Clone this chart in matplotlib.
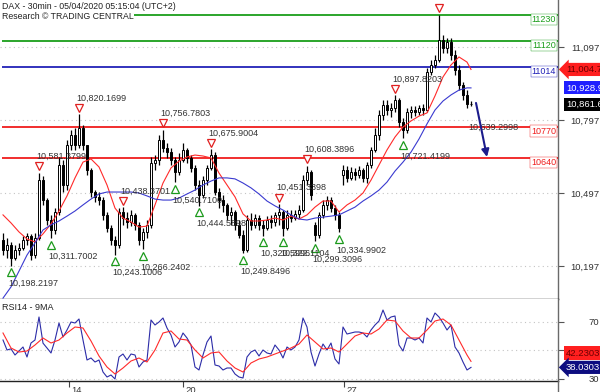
import matplotlib
matplotlib.use("Agg")
import matplotlib.pyplot as plt
import matplotlib.transforms as mtransforms
from matplotlib.lines import Line2D

plt.rcParams['font.family'] = ['Liberation Sans', 'DejaVu Sans']

# ---------------- data ----------------
title = "DAX - 30min - 05/04/2020 05:15:04 (UTC+2)"
subtitle = "Research \u00a9 TRADING CENTRAL"

opens = [10304, 10263, 10283, 10230, 10263, 10271, 10304, 10320, 10242, 10312,
         10550, 10468, 10386, 10345, 10419, 10612, 10530, 10694, 10735, 10694,
         10764, 10694, 10592, 10501, 10481, 10468, 10407, 10353, 10304, 10283,
         10419, 10394, 10378, 10407, 10366, 10304, 10337, 10366, 10620, 10633,
         10715, 10682, 10665, 10633, 10583, 10633, 10674, 10641, 10600, 10530,
         10489, 10550, 10600, 10653, 10501, 10468, 10448, 10407, 10419, 10366,
         10324, 10263, 10386, 10366, 10394, 10366, 10353, 10386, 10378, 10407,
         10419, 10353, 10407, 10394, 10411, 10427, 10550, 10583, 10366, 10324,
         10407, 10448, 10468, 10435, 10407, 10571, 10592, 10559, 10583, 10571,
         10592, 10559, 10612, 10674, 10735, 10818, 10859, 10838, 10846, 10879,
         10789, 10756, 10830, 10838, 10830, 10846, 10838, 10994, 11023, 11044,
         11126, 11093, 11118, 11064, 11002, 10941, 10900, 10863]
closes = [10263, 10283, 10230, 10263, 10271, 10304, 10320, 10242, 10312, 10550,
          10468, 10386, 10345, 10419, 10612, 10530, 10694, 10735, 10694, 10764,
          10694, 10592, 10501, 10481, 10468, 10407, 10353, 10304, 10283, 10419,
          10394, 10378, 10407, 10366, 10304, 10337, 10366, 10620, 10633, 10715,
          10682, 10665, 10633, 10583, 10633, 10674, 10641, 10600, 10530, 10489,
          10550, 10600, 10653, 10501, 10468, 10448, 10407, 10419, 10366, 10324,
          10263, 10386, 10366, 10394, 10366, 10353, 10386, 10378, 10407, 10419,
          10353, 10407, 10394, 10411, 10427, 10550, 10583, 10489, 10324, 10407,
          10448, 10468, 10435, 10407, 10353, 10592, 10559, 10583, 10571, 10592,
          10559, 10612, 10674, 10735, 10818, 10859, 10838, 10846, 10879, 10789,
          10756, 10830, 10838, 10830, 10846, 10838, 10994, 11023, 11044, 11126,
          11093, 11118, 11064, 11002, 10941, 10900, 10863, 10861.6]
highs = [10333, 10312, 10296, 10283, 10291, 10320, 10333, 10329, 10333, 10581,
         10567, 10476, 10407, 10435, 10645, 10633, 10715, 10756, 10764, 10820,
         10776, 10694, 10600, 10509, 10501, 10481, 10419, 10366, 10320, 10435,
         10438, 10419, 10427, 10415, 10378, 10353, 10386, 10645, 10653, 10735,
         10757, 10702, 10682, 10645, 10661, 10702, 10682, 10653, 10612, 10550,
         10567, 10612, 10676, 10665, 10518, 10489, 10456, 10439, 10427, 10386,
         10345, 10407, 10415, 10411, 10407, 10386, 10402, 10407, 10419, 10451,
         10427, 10427, 10427, 10427, 10448, 10571, 10608, 10592, 10378, 10419,
         10468, 10485, 10481, 10448, 10419, 10612, 10608, 10604, 10600, 10608,
         10600, 10624, 10686, 10764, 10838, 10879, 10879, 10867, 10898, 10887,
         10805, 10846, 10855, 10855, 10859, 10863, 11011, 11044, 11064, 11229,
         11146, 11134, 11134, 11085, 11023, 10953, 10920, 10875]
lows = [10242, 10230, 10198, 10222, 10242, 10263, 10283, 10222, 10230, 10304,
        10448, 10366, 10312, 10329, 10407, 10501, 10509, 10674, 10674, 10682,
        10674, 10571, 10481, 10460, 10448, 10386, 10337, 10283, 10243, 10271,
        10366, 10353, 10361, 10345, 10283, 10266, 10312, 10353, 10592, 10612,
        10665, 10641, 10612, 10541, 10571, 10624, 10620, 10583, 10509, 10445,
        10476, 10530, 10592, 10489, 10435, 10419, 10386, 10366, 10345, 10312,
        10250, 10254, 10345, 10353, 10345, 10322, 10345, 10353, 10361, 10366,
        10322, 10345, 10378, 10386, 10394, 10419, 10530, 10468, 10299, 10312,
        10394, 10427, 10419, 10386, 10335, 10530, 10542, 10550, 10550, 10559,
        10542, 10538, 10600, 10665, 10715, 10797, 10818, 10809, 10830, 10768,
        10721, 10744, 10805, 10813, 10818, 10818, 10830, 10982, 11011, 11035,
        11072, 11072, 11044, 10982, 10920, 10879, 10846, 10855]

# moving averages read at every second bar (last one at the final bar)
ma_fast = [10407, 10374, 10337, 10308, 10296, 10329, 10370, 10423, 10485, 10559,
           10624, 10637, 10604, 10530, 10435, 10394, 10378, 10357, 10361, 10448,
           10538, 10600, 10628, 10645, 10653, 10649, 10641, 10579, 10530, 10481,
           10411, 10382, 10382, 10386, 10394, 10386, 10402, 10390, 10407, 10439,
           10464, 10464, 10419, 10448, 10468, 10497, 10550, 10612, 10674, 10727,
           10768, 10793, 10813, 10826, 10896, 10974, 11023, 11056, 11035, 11004.7]
ma_slow = [10065, 10111, 10176, 10242, 10292, 10345, 10366, 10382, 10402, 10423,
           10448, 10472, 10493, 10501, 10501, 10501, 10501, 10497, 10485, 10472,
           10468, 10468, 10476, 10493, 10509, 10530, 10546, 10559, 10559, 10555,
           10538, 10518, 10493, 10464, 10444, 10427, 10407, 10390, 10386, 10394,
           10398, 10402, 10407, 10423, 10439, 10464, 10485, 10509, 10542, 10587,
           10624, 10665, 10719, 10781, 10838, 10875, 10900, 10920, 10929, 10928.9]

rsi = [57.2, 50.2, 51.0, 46.7, 49.5, 52.3, 45.3, 55.1, 57.2, 73.3,
       55.0, 51.6, 48.1, 57.2, 69.1, 59.3, 64.2, 69.8, 69.1, 71.9,
       57.2, 43.2, 44.6, 41.8, 43.2, 34.8, 31.3, 32.7, 29.9, 45.3,
       47.4, 43.2, 47.4, 46.7, 38.3, 41.8, 43.2, 71.2, 67.7, 69.8,
       72.6, 65.6, 60.7, 52.3, 55.8, 62.1, 58.6, 53.7, 38.3, 36.2,
       46.7, 55.8, 60.0, 39.7, 39.0, 36.2, 37.6, 37.6, 33.4, 31.3,
       30.6, 45.3, 48.8, 50.2, 46.0, 50.2, 48.1, 47.4, 53.7, 50.2,
       44.6, 52.3, 50.2, 52.3, 57.2, 72.6, 66.3, 48.8, 39.0, 47.4,
       54.4, 50.2, 55.1, 43.9, 40.4, 66.3, 61.4, 62.1, 62.8, 62.8,
       62.1, 59.3, 64.2, 67.7, 70.5, 78.2, 71.2, 73.3, 74.0, 53.7,
       49.5, 58.6, 58.6, 57.2, 58.6, 55.1, 72.6, 69.8, 76.1, 73.3,
       69.1, 64.2, 67.7, 52.3, 48.1, 41.8, 36.2, 38.0303]
rsi_ma = [62.1, 51.6, 48.8, 49.5, 53.7, 58.6, 55.1, 57.2, 62.1, 66.3,
          65.6, 56.5, 46.0, 38.3, 33.4, 37.6, 42.5, 44.6, 41.8, 50.2,
          62.1, 63.5, 57.9, 57.2, 50.2, 44.6, 48.1, 48.8, 42.5, 37.6,
          34.8, 41.1, 43.9, 45.3, 47.4, 49.5, 51.6, 54.4, 60.7, 55.8,
          50.9, 51.6, 48.8, 54.4, 60.0, 62.1, 61.4, 64.9, 71.2, 70.5,
          63.5, 58.6, 58.6, 64.2, 70.5, 71.9, 67.7, 57.2, 46.7, 42.2303]

day_tick_bars = [16.5, 45, 85.25]
day_tick_labels = ["14", "20", "27"]

levels = [11230, 11120, 11014, 10770, 10640]
level_labels = ["11230", "11120", "11014", "10770", "10640"]
level_colors = ["#1a9e1a", "#1a9e1a", "#2222b8", "#f01c1c", "#f01c1c"]

price_ticks = [11097, 10797, 10497, 10197]
price_tick_labels = ["11,097", "10,797", "10,497", "10,197"]
rsi_ticks = [70, 50, 30]

high_bars = [9, 19, 30, 40, 52, 69, 76, 98, 109]
high_texts = ["10,581.3799", "10,820.1699", "10,438.3701", "10,756.7803",
              "10,675.9004", "10,451.3398", "10,608.3896", "10,897.8203", ""]
low_bars = [2, 12, 28, 35, 43, 49, 60, 65, 70, 78, 84, 100]
low_texts = ["10,198.2197", "10,311.7002", "10,243.1006", "10,266.2402",
             "10,540.7100", "10,444.5898", "10,249.8496", "10,320.5996",
             "10,322.1104", "10,299.3096", "10,334.9902", "10,721.4199"]

forecast_from = 10867
forecast_to = 10645
forecast_text = "10,639.2998"
forecast_text_price = 10768

# ---------------- drawing ----------------
W, H = 600, 392
fig = plt.figure(figsize=(W / 100, H / 100), dpi=100)
fig.patch.set_facecolor("white")

ax = fig.add_axes([0, (H - 299) / H, 558 / W, 299 / H])
ax2 = fig.add_axes([0, (H - 381) / H, 558 / W, 82 / H])

n = len(closes)
xs = list(range(n))
ma_bars = list(range(0, n - 1, 2)) + [n - 1]

for a in (ax, ax2):
    a.set_xlim(-0.75, 138.75)
    a.set_facecolor("white")
    a.spines["left"].set_visible(False)
    a.spines["top"].set_visible(False)
    a.spines["right"].set_color("#6a6a6a")
    a.spines["right"].set_linewidth(1.0)
    a.spines["bottom"].set_color("#222222")
    a.spines["bottom"].set_linewidth(1.0)

ax.set_ylim(10061.4, 11290.1)
ax2.set_ylim(28.5, 85.9)

# grid
ax.set_yticks(price_ticks)
ax.set_yticklabels(price_tick_labels)
ax2.set_yticks(rsi_ticks)
ax2.set_yticklabels([str(t) for t in rsi_ticks])
for a in (ax, ax2):
    a.yaxis.tick_right()
    a.tick_params(axis="y", length=4, width=0.8, color="#555555",
                  labelsize=6.8, labelcolor="#333333", pad=25.9)
    for lab in a.get_yticklabels():
        lab.set_horizontalalignment("right")
    a.grid(axis="y", color="#c4c4c4", linestyle=(0, (1, 3)), linewidth=0.8)
    a.set_axisbelow(True)

ax.set_xticks([])
ax2.set_xticks(day_tick_bars)
ax2.set_xticklabels(day_tick_labels)
ax2.tick_params(axis="x", length=4, width=0.8, color="#444444",
                labelsize=6.8, labelcolor="#333333", pad=-0.5)
for lab in ax2.get_xticklabels():
    lab.set_horizontalalignment("left")
    lab.set_transform(lab.get_transform() + mtransforms.ScaledTranslation(2 / 100, 0, fig.dpi_scale_trans))

# horizontal levels
ax.hlines(levels, -0.2, 138.75, colors=level_colors, linewidth=1.3, zorder=2)
blend = mtransforms.blended_transform_factory(ax.transAxes, ax.transData)
for lv, lb, col in zip(levels, level_labels, level_colors):
    ax.text(556 / 558, lv, lb, transform=blend, ha="right", va="top",
            fontsize=6.5, color=col, zorder=6,
            bbox=dict(boxstyle="square,pad=0.12", fc="white", ec=col, lw=0.3))

# candles
ax.vlines(xs, lows, highs, color="black", linewidth=0.9, zorder=3)
heights = [max(abs(c - o), 3) for o, c in zip(opens, closes)]
bottoms = [min(o, c) for o, c in zip(opens, closes)]
fcolors = ["white" if c >= o else "black" for o, c in zip(opens, closes)]
ax.bar(xs, heights, bottom=bottoms, width=0.62, color=fcolors,
       edgecolor="black", linewidth=0.7, zorder=4)

# moving averages
ax.plot(ma_bars, ma_fast, color="#ff2a2a", linewidth=0.8, zorder=5)
ax.plot(ma_bars, ma_slow, color="#3a3ad0", linewidth=0.8, zorder=5)

# high / low markers
up_tr = mtransforms.offset_copy(ax.transData, fig=fig, x=0, y=6.5, units="dots")
dn_tr = mtransforms.offset_copy(ax.transData, fig=fig, x=0, y=-6.5, units="dots")
for b, t in zip(high_bars, high_texts):
    ax.plot([b], [highs[b]], marker="v", ms=6, mfc="white", mec="#e02020",
            mew=0.9, transform=up_tr, zorder=7, clip_on=False)
    if t:
        ax.annotate(t, xy=(b, highs[b]), xytext=(-3 * 0.72, 16.5 * 0.72),
                    textcoords="offset points", ha="left", va="center",
                    fontsize=6.5, color="#333333", zorder=8)
for b, t in zip(low_bars, low_texts):
    ax.plot([b], [lows[b]], marker="^", ms=6, mfc="white", mec="#1c9a1c",
            mew=0.9, transform=dn_tr, zorder=7)
    ax.annotate(t, xy=(b, lows[b]), xytext=(-3 * 0.72, -18 * 0.72),
                textcoords="offset points", ha="left", va="center",
                fontsize=6.5, color="#333333", zorder=8)

# forecast arrow
ax.annotate("", xy=(n - 1 + 4.0, forecast_to), xytext=(n - 1 + 1.25, forecast_from),
            arrowprops=dict(arrowstyle="-|>", color="#1c1c8c", lw=1.5,
                            mutation_scale=11, shrinkA=0, shrinkB=0), zorder=9)
ax.text(n - 1 - 0.75, forecast_text_price, forecast_text, ha="left", va="center",
        fontsize=6.5, color="#333333", zorder=8)

# RSI
ax2.plot(xs, rsi, color="#2c2ca8", linewidth=0.8, zorder=4)
ax2.plot(ma_bars, rsi_ma, color="#ff2a2a", linewidth=0.8, zorder=5)

# value boxes on the right
blend2 = mtransforms.blended_transform_factory(ax2.transAxes, ax2.transData)
xb = 1.0 + 8 / 558
ax.text(xb, ma_fast[-1], "{:,.1f}".format(ma_fast[-1]), transform=blend, ha="left",
        va="center", fontsize=6.8, color="#6a0000", clip_on=False, zorder=10,
        bbox=dict(boxstyle="larrow,pad=0.22", fc="#ff1f1f", ec="none"))
ax.text(xb, ma_slow[-1], "{:,.1f}".format(ma_slow[-1]), transform=blend, ha="left",
        va="center", fontsize=6.8, color="white", clip_on=False, zorder=10,
        bbox=dict(boxstyle="square,pad=0.22", fc="#1f1fff", ec="none"))
ax.text(xb, closes[-1], "{:,.1f}".format(closes[-1]), transform=blend, ha="left",
        va="center", fontsize=6.8, color="white", clip_on=False, zorder=10,
        bbox=dict(boxstyle="square,pad=0.22", fc="black", ec="none"))
ax2.annotate("{:.4f}".format(rsi_ma[-1]), xy=(xb, rsi_ma[-1]), xycoords=blend2,
             xytext=(0, 6), textcoords="offset points", ha="left", va="center",
             fontsize=6.8, color="#6a0000", annotation_clip=False, zorder=10,
             bbox=dict(boxstyle="square,pad=0.22", fc="#ff1f1f", ec="none"))
ax2.text(xb, rsi[-1], "{:.4f}".format(rsi[-1]), transform=blend2, ha="left",
         va="center", fontsize=6.8, color="white", clip_on=False, zorder=10,
         bbox=dict(boxstyle="larrow,pad=0.22", fc="#0d0d80", ec="none"))

# titles
fig.text(2 / W, 1 - 2 / H, title, ha="left", va="top", fontsize=6.3, color="#222222",
         bbox=dict(boxstyle="square,pad=0.05", fc="white", ec="none"), zorder=20)
fig.text(2 / W, 1 - 12 / H, subtitle, ha="left", va="top", fontsize=6.3, color="#222222",
         bbox=dict(boxstyle="square,pad=0.05", fc="white", ec="none"), zorder=20)
ax2.text(2 / 558, 0.95, "RSI14 - 9MA", transform=ax2.transAxes, ha="left", va="top",
         fontsize=6.5, color="#222222")

# right axis line continues to the bottom edge
fig.add_artist(Line2D([558 / W, 558 / W], [0, (H - 381) / H], color="#6a6a6a", linewidth=1.0))

fig.savefig("out.png", dpi=100, facecolor="white")
